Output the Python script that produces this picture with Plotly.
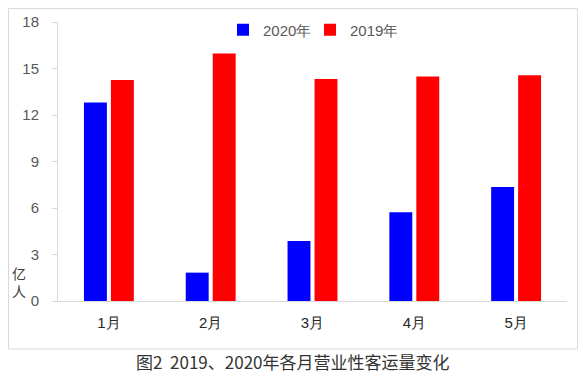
import plotly.graph_objects as go

months = ["1月", "2月", "3月", "4月", "5月"]
values_2020 = [12.8, 1.83, 3.87, 5.72, 7.35]
values_2019 = [14.26, 15.96, 14.32, 14.48, 14.56]
y_ticks = [0, 3, 6, 9, 12, 15, 18]
series_names = ["2020年", "2019年"]
series_colors = ["#0000FF", "#FF0000"]
caption = "图2  2019、2020年各月营业性客运量变化"
y_unit = "亿<br>人"

fig = go.Figure()
for name, vals, col in zip(series_names, [values_2020, values_2019], series_colors):
    fig.add_trace(go.Bar(x=months, y=vals, name=name, marker=dict(color=col, line=dict(width=0))))

# page has an 8px body margin; figure coordinates = page coordinates - 8
OFF = 8
W, H = 570, 366
L, R, T, B = 50, 11, 14, 73
pw, ph = W - L - R, H - T - B

def px_x(x):
    return (x - OFF - L) / pw

def px_y(y):
    return (H - B - (y - OFF)) / ph

fig.update_layout(
    width=W, height=H,
    margin=dict(l=L, r=R, t=T, b=B, autoexpand=False),
    paper_bgcolor="white", plot_bgcolor="white",
    barmode="group", bargap=0.47, bargroupgap=0.15,
    font=dict(family="Liberation Sans, Arial, sans-serif", color="#595959"),
    legend=dict(orientation="h", x=px_x(223), y=px_y(30), xanchor="left", yanchor="middle",
                font=dict(size=15, color="#595959"), itemwidth=30, entrywidth=42,
                bgcolor="rgba(0,0,0,0)"),
    xaxis=dict(showline=True, linecolor="#D9D9D9", linewidth=1, ticks="",
               ticklabelstandoff=8,
               tickfont=dict(size=15, color="#262626"), showgrid=False),
    yaxis=dict(range=[0, 18], tickvals=y_ticks, showline=True, linecolor="#D9D9D9", linewidth=1,
               ticks="outside", ticklen=5, tickcolor="#D9D9D9", showgrid=False, zeroline=False,
               ticklabelstandoff=10,
               tickfont=dict(size=15, color="#595959")),
    shapes=[dict(type="rect", xref="paper", yref="paper",
                 x0=px_x(8.5), x1=px_x(577.5), y0=px_y(349), y1=px_y(8.5),
                 line=dict(color="#D9D9D9", width=1), fillcolor="rgba(0,0,0,0)", layer="below")],
    annotations=[
        dict(text=y_unit, xref="paper", yref="paper", x=px_x(19), y=px_y(282),
             showarrow=False, font=dict(size=14, color="#404040", family="Noto Sans CJK SC"),
             xanchor="center", yanchor="middle"),
        dict(text=caption, xref="paper", yref="paper", x=px_x(293), y=px_y(361),
             showarrow=False, font=dict(size=17, color="#333333", family="Noto Sans CJK SC"),
             xanchor="center", yanchor="middle"),
    ],
)

fig.write_html("out.html")
